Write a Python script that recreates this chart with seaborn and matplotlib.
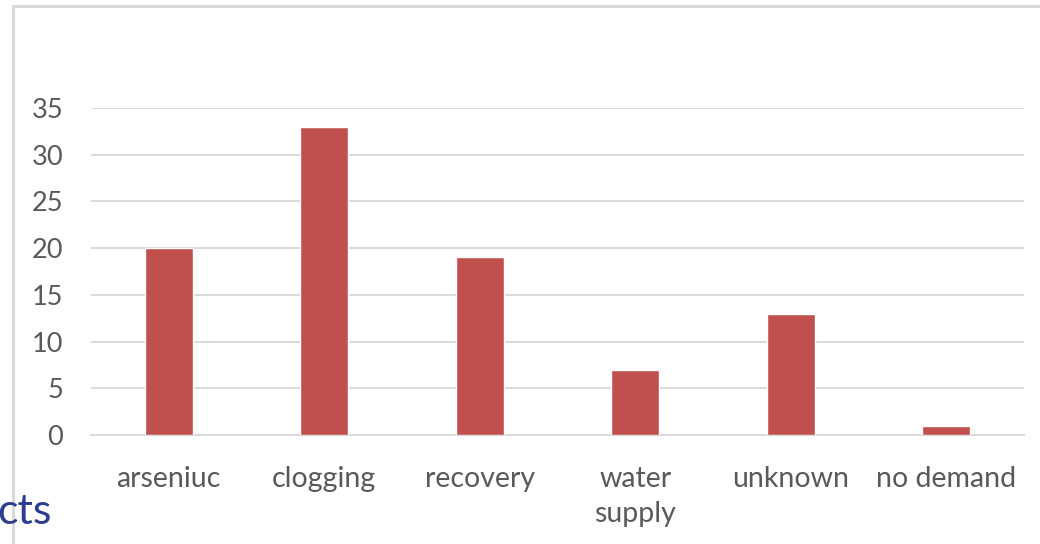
import matplotlib
matplotlib.use("Agg")
import matplotlib.pyplot as plt
from matplotlib.lines import Line2D
import seaborn as sns
import pandas as pd

categories = ["arseniuc", "clogging", "recovery", "water\nsupply", "unknown", "no demand"]
counts = [20, 33, 19, 7, 13, 1]
yticks = [0, 5, 10, 15, 20, 25, 30, 35]

df = pd.DataFrame({"category": categories, "count": counts})

sns.set_style("white")
plt.rcParams["font.family"] = ["Lato", "DejaVu Sans"]

fig = plt.figure(figsize=(10.4, 5.44), dpi=100)
ax = fig.add_axes([0.0875, 0.2004, 0.8971, 0.6011])

sns.barplot(data=df, x="category", y="count", color="#C0504D", width=0.31,
            saturation=1, ax=ax, zorder=3)

ax.set_ylim(0, 35)
ax.set_yticks(yticks)
ax.grid(axis="y", color="#d9d9d9", linewidth=1.4, zorder=0)
ax.set_axisbelow(True)
for s in ["top", "right", "left"]:
    ax.spines[s].set_visible(False)
ax.spines["bottom"].set_color("#d9d9d9")
ax.spines["bottom"].set_linewidth(1.4)
ax.set_xlabel("")
ax.set_ylabel("")
ax.tick_params(axis="both", length=0, labelcolor="#595959")
ax.tick_params(axis="y", labelsize=19.5, pad=20)
ax.tick_params(axis="x", labelsize=20.5, pad=22)
for lbl in ax.get_xticklabels():
    lbl.set_linespacing(1.45)

# chart frame edges (top and left visible)
fig.add_artist(Line2D([0.0125, 0.0125], [0.0, 0.989], color="#d9d9d9", linewidth=2.2,
                      transform=fig.transFigure))
fig.add_artist(Line2D([0.0125, 1.0], [0.989, 0.989], color="#d9d9d9", linewidth=2.2,
                      transform=fig.transFigure))

# slide text partially behind the chart
fig.text(0.05, 0.058, "cts", ha="right", va="center", fontsize=31, color="#2E3D8F")

fig.savefig("out.png", dpi=100)
